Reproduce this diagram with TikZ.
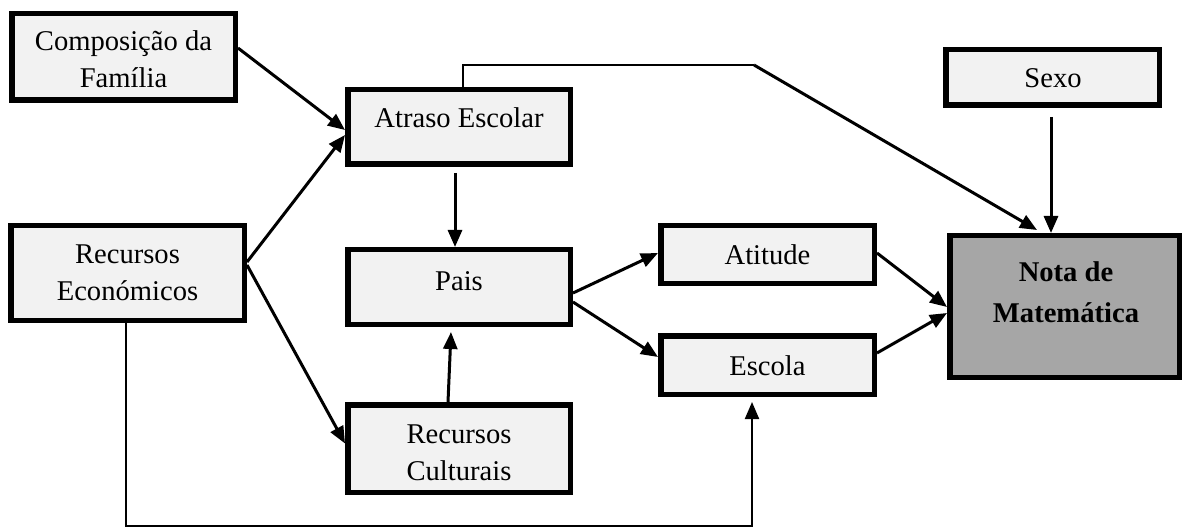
\documentclass[tikz,border=0pt]{standalone}
\usepackage{fontspec}
\setmainfont{Liberation Serif}
\usetikzlibrary{arrows.meta,calc}
\definecolor{boxfill}{HTML}{F2F2F2}
\definecolor{notafill}{HTML}{A6A6A6}
\begin{document}
\begin{tikzpicture}[x=1pt,y=-1pt,
  box/.style={draw=black, line width=5.5pt, fill=boxfill, inner sep=0pt},
  lbl/.style={anchor=base, align=center, inner sep=0pt, font=\fontsize{28.6}{37}\selectfont},
  conn/.style={line width=3pt, -{Triangle[length=17pt,width=14pt]}},
  thinline/.style={line width=2pt}]
\useasboundingbox (0,0) rectangle (1185,529);
\fill[white] (0,0) rectangle (1185,529);

% boxes
\node[box, minimum width=223.5pt, minimum height=86.5pt] (comp) at (123.5,57) {};
\node[box, minimum width=222.5pt, minimum height=74.5pt] (atraso) at (459,127) {};
\node[box, minimum width=213.5pt, minimum height=55.5pt] (sexo) at (1052.5,77.5) {};
\node[box, minimum width=233.5pt, minimum height=94.5pt] (re) at (127.5,273) {};
\node[box, minimum width=222.5pt, minimum height=74.5pt] (pais) at (459,287) {};
\node[box, minimum width=222.5pt, minimum height=87.5pt] (rc) at (459,448.5) {};
\node[box, minimum width=213.5pt, minimum height=57.5pt] (atitude) at (767.5,254.5) {};
\node[box, minimum width=213.5pt, minimum height=58.5pt] (escola) at (767.5,365) {};
\node[box, fill=notafill, minimum width=229.5pt, minimum height=141.5pt] (nota) at (1064.5,306.5) {};

% texts (base anchor = baseline of the last line)
\node[lbl] (tcomp) at (123.5,88) {Composição da\\Família};
\node[lbl] (tatraso) at (459,128) {Atraso Escolar};
\node[lbl] (tsexo) at (1053,88) {Sexo};
\node[lbl] (tre) at (127.5,300) {Recursos\\Económicos};
\node[lbl] (tpais) at (459,290) {Pais};
\node[lbl] (trc) at (459,480) {Recursos\\Culturais};
\node[lbl] (tatitude) at (767.5,265) {Atitude};
\node[lbl] (tescola) at (767.5,375) {Escola};
\node[lbl, font=\fontsize{28.6}{41}\selectfont\bfseries] (tnota) at (1066,322) {Nota de\\Matemática};

% helper coordinates
\coordinate (k1) at (754,65);
\coordinate (k2) at (752,526);

% connectors
\draw[conn] ($(comp.east)+(0,-9)$) -- ($(atraso.west)+(0,3)$);
\draw[conn] ($(re.east)+(0,-11)$) -- ($(atraso.west)+(0,8)$);
\draw[conn] ($(re.east)+(0,-8)$) -- ($(rc.west)+(0,-5)$);
\draw[conn] ($(atraso.south)+(-4,6)$) -- ($(pais.north)+(-4,0)$);
\draw[conn] ($(rc.north)+(-11,0)$) -- ($(pais.south)+(-8,5)$);
\draw[conn] ($(pais.east)+(0,6)$) -- ($(atitude.west)+(0,-1.5)$);
\draw[conn] ($(pais.east)+(0,15)$) -- ($(escola.west)+(0,-8)$);
\draw[conn] ($(atitude.east)+(0,-1.5)$) -- ($(nota.west)+(0,0.5)$);
\draw[conn] ($(escola.east)+(0,-12)$) -- ($(nota.west)+(0,6.5)$);
\draw[conn] ($(sexo.south)+(-1.5,9)$) -- ($(nota.north)+(-13.5,0)$);

% atraso -> nota (polyline)
\draw[thinline] ($(atraso.north)+(4,0)$) |- (k1);
\draw[conn] (k1) -- ($(nota.north west)+(90,-3)$);

% re -> escola (polyline)
\draw[thinline, -{Triangle[length=17pt,width=14pt]}] ($(re.south)+(-1.5,0)$) |- (k2) -- ($(escola.south)+(-15.5,5)$);
\end{tikzpicture}
\end{document}
